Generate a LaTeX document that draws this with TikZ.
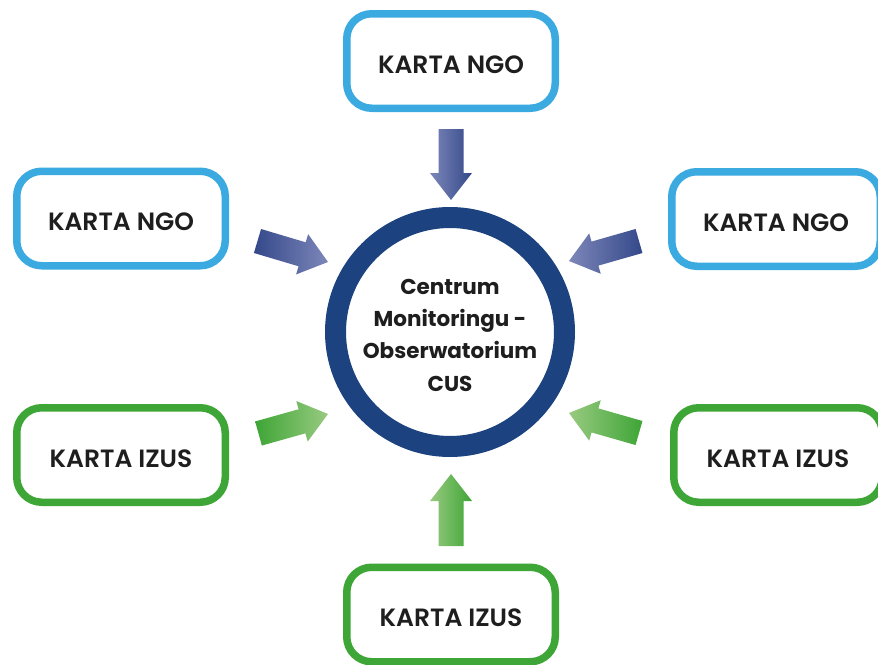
\documentclass[tikz,border=0pt]{standalone}
\usepackage{fontspec}
\setmainfont{Poppins}[BoldFont={Poppins SemiBold}]
\newfontfamily\hubfont{Poppins Bold}
\usetikzlibrary{calc}
\definecolor{boxblue}{RGB}{58,170,224}
\definecolor{boxgreen}{RGB}{62,166,54}
\definecolor{ringblue}{RGB}{28,67,128}
\definecolor{arrD}{RGB}{52,72,138}
\definecolor{arrL}{RGB}{125,135,185}
\definecolor{grnD}{RGB}{62,165,54}
\definecolor{grnL}{RGB}{152,202,128}
\definecolor{txt}{RGB}{30,30,30}
\newcommand{\blockarrow}[3]{%
  \shade[#3] ($(#1)!12.5pt!90:(#2)$) -- ($($(#2)!27pt!(#1)$)!12.5pt!90:(#2)$) -- ($($(#2)!27pt!(#1)$)!21pt!90:(#2)$) -- (#2) -- ($($(#2)!27pt!(#1)$)!21pt!-90:(#2)$) -- ($($(#2)!27pt!(#1)$)!12.5pt!-90:(#2)$) -- ($(#1)!12.5pt!-90:(#2)$) -- cycle;}
\tikzset{
  card/.style={draw, rounded corners=25pt, line width=7.5pt, fill=white,
    minimum width=208.5pt, minimum height=94.5pt, inner sep=0pt,
    font=\fontsize{25}{30}\selectfont\bfseries, text=txt,
    text height=24pt, text depth=0pt},
  ngo/.style={card, draw=boxblue},
  izus/.style={card, draw=boxgreen},
  hub/.style={draw=ringblue, circle, line width=21pt, minimum size=229pt, fill=white},
  hubtxt/.style={align=center, font=\fontsize{21.5}{32.3}\selectfont\hubfont, text=txt},
}
\begin{document}
\begin{tikzpicture}[x=1pt, y=-1pt]
\useasboundingbox (0,0) rectangle (878,664);
\fill[white] (0,0) rectangle (878,664);
\begin{scope}
\clip (0,0) rectangle (878,664);
\node[ngo] (ngoT) at (451,61) {KARTA NGO};
\node[ngo] (ngoL) at (121,218.5) {KARTA NGO};
\node[ngo] (ngoR) at (776,219) {KARTA NGO};
\node[izus] (izusL) at (121,455) {KARTA IZUS};
\node[izus] (izusR) at (778,455) {KARTA IZUS};
\node[izus] (izusB) at (451,614.5) {KARTA IZUS};
\end{scope}
\node[hub] (hub) at (450,332) {};
\node[hubtxt] (hubtext) at (450,335) {Centrum\\Monitoringu -\\Obserwatorium\\CUS};
% arrow end points
\coordinate (tT) at (451,129);   \coordinate (pT) at (451,200);
\coordinate (tLU) at (257.5,241); \coordinate (pLU) at (328,262);
\coordinate (tRU) at (639,241);   \coordinate (pRU) at (569,261);
\coordinate (tLD) at (258.5,433.5); \coordinate (pLD) at (328,414);
\coordinate (tRD) at (639,433);   \coordinate (pRD) at (569,413);
\coordinate (tB) at (451,546);   \coordinate (pB) at (451,474);
\blockarrow{tT}{pT}{left color=arrL, right color=arrD}
\blockarrow{tLU}{pLU}{left color=arrD, right color=arrL}
\blockarrow{tRU}{pRU}{left color=arrL, right color=arrD}
\blockarrow{tLD}{pLD}{left color=grnD, right color=grnL}
\blockarrow{tRD}{pRD}{left color=grnL, right color=grnD}
\blockarrow{tB}{pB}{left color=grnL, right color=grnD}
\end{tikzpicture}
\end{document}
